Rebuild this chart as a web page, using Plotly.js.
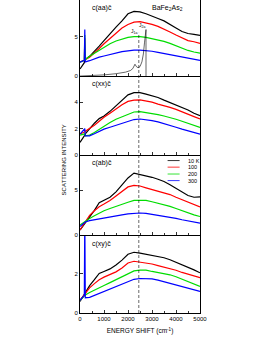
<!DOCTYPE html>
<html><head><meta charset="utf-8">
<script src="https://cdn.plot.ly/plotly-3.0.1.min.js"></script>
<style>html,body{margin:0;padding:0;background:#fff}</style>
</head><body><div id="chart" style="width:275px;height:356px"></div>
<script>
const energy = [0,180,200,220,400,600,800,1000,1250,1500,1750,2000,2250,2500,2750,3000,3250,3500,3750,4000,4250,4500,4750,5000];
const temps = ["10 K","100","200","300"];
const colors = ["#000000","#ff0000","#00dd00","#0000ff"];
const panelLabels = ["c(aa)c̄","c(xx)c̄","c(ab)c̄","c(xy)c̄"];

// c(aa)
const aa_10K  = [0.9,1.7,2.0,2.1,2.5,3.1,3.8,4.5,5.4,6.2,7.0,7.9,8.2,8.15,7.9,7.55,7.3,7.0,6.6,6.1,5.65,5.4,5.3,5.15];
const aa_100  = [1.8,2.0,4.8,2.1,2.4,2.9,3.5,4.1,4.8,5.5,6.1,6.55,6.85,6.9,6.75,6.55,6.3,6.0,5.6,5.2,4.8,4.5,4.35,4.15];
const aa_200  = [1.75,2.0,5.2,2.1,2.5,2.9,3.3,3.7,4.1,4.45,4.7,4.9,5.0,5.0,4.9,4.75,4.6,4.4,4.15,3.85,3.5,3.25,3.05,2.9];
const aa_300  = [1.75,2.0,5.9,1.8,1.95,2.2,2.4,2.55,2.75,2.95,3.1,3.2,3.3,3.3,3.25,3.15,3.0,2.85,2.7,2.55,2.4,2.25,2.1,2.0];
// c(xx)
const xx_10K  = [0.95,1.4,1.5,1.6,2.0,2.4,2.75,2.95,3.3,3.7,4.1,4.55,4.72,4.72,4.6,4.5,4.35,4.15,3.97,3.8,3.6,3.4,3.15,2.97];
const xx_100  = [1.58,1.7,1.75,1.8,2.0,2.25,2.55,2.85,3.15,3.5,3.8,4.05,4.15,4.17,4.1,4.0,3.85,3.75,3.6,3.45,3.25,3.05,2.9,2.72];
const xx_200  = [1.5,1.55,1.6,1.45,1.5,1.7,1.95,2.2,2.45,2.7,2.9,3.1,3.25,3.28,3.22,3.15,3.05,2.95,2.84,2.7,2.55,2.4,2.25,2.08];
const xx_300  = [1.58,1.9,2.0,1.45,1.45,1.6,1.8,1.95,2.1,2.25,2.4,2.55,2.68,2.72,2.68,2.6,2.5,2.38,2.25,2.1,1.95,1.82,1.7,1.58];
// c(ab)
const ab_10K  = [0.56,1.2,1.35,1.45,2.1,2.75,3.6,3.9,4.2,4.8,5.6,6.35,6.88,6.75,6.6,6.42,6.2,5.95,5.6,5.2,4.75,4.4,4.2,4.25];
const ab_100  = [0.56,1.3,1.45,1.6,2.2,2.7,3.15,3.45,3.85,4.35,4.9,5.35,5.52,5.45,5.25,5.08,4.9,4.7,4.5,4.2,3.95,3.7,3.4,3.12];
const ab_200  = [1.13,1.45,1.55,1.6,1.85,2.15,2.45,2.7,2.95,3.2,3.45,3.65,3.85,3.88,3.85,3.7,3.55,3.35,3.19,2.95,2.7,2.45,2.25,2.06];
const ab_300  = [0.94,1.35,1.4,1.45,1.6,1.7,1.8,1.95,2.06,2.15,2.25,2.35,2.43,2.45,2.4,2.3,2.2,2.1,2.0,1.85,1.7,1.55,1.45,1.32];
// c(xy)
const xy_10K  = [0.59,0.95,1.0,1.05,1.4,1.7,2.02,2.12,2.25,2.45,2.7,3.0,3.1,3.06,3.0,2.95,2.9,2.82,2.72,2.6,2.47,2.35,2.2,2.05];
const xy_100  = [0.65,0.95,1.0,1.02,1.28,1.5,1.7,1.83,1.97,2.1,2.3,2.55,2.64,2.6,2.55,2.5,2.42,2.35,2.27,2.18,2.07,1.97,1.88,1.8];
const xy_200  = [0.65,0.88,0.9,0.92,1.05,1.18,1.28,1.4,1.55,1.7,1.85,2.0,2.15,2.19,2.19,2.12,2.06,2.0,1.95,1.85,1.72,1.58,1.46,1.36];
const xy_300  = [0.65,0.9,5.0,0.78,0.8,0.9,1.02,1.12,1.25,1.38,1.5,1.62,1.72,1.76,1.76,1.74,1.68,1.6,1.52,1.45,1.36,1.27,1.18,1.1];

// two-magnon calculation (thin line, c(aa) panel)
const calcEnergy = [0,500,1000,1500,1900,2100,2200,2290,2350,2420,2500,2580,2640,2690,2730,2750,2750];
const calcValue  = [0,0.05,0.15,0.3,0.5,0.7,0.95,1.5,1.2,1.05,1.2,1.8,2.8,4.3,5.5,5.9,0];
const markerEnergy = [2450];

const panels = [
  {data:[aa_10K,aa_100,aa_200,aa_300], xa:"x4", ya:"y4"},
  {data:[xx_10K,xx_100,xx_200,xx_300], xa:"x3", ya:"y3"},
  {data:[ab_10K,ab_100,ab_200,ab_300], xa:"x2", ya:"y2"},
  {data:[xy_10K,xy_100,xy_200,xy_300], xa:"x",  ya:"y"}
];

const traces = [];
panels.forEach(p => {
  p.data.forEach((d,i) => {
    traces.push({x:energy, y:d, xaxis:p.xa, yaxis:p.ya, type:"scatter", mode:"lines",
      line:{color:colors[i], width:1.2}, showlegend:false, hoverinfo:"skip"});
  });
});
traces.push({x:calcEnergy, y:calcValue, xaxis:"x4", yaxis:"y4", type:"scatter", mode:"lines",
  line:{color:"#000", width:0.6}, showlegend:false});

const font = {family:"Liberation Sans, Arial, sans-serif", color:"#000"};
function xax(anchor, labels){
  return {range:[0,5000], anchor:anchor, showline:true, mirror:true, linecolor:"#000", linewidth:1,
    ticks:"inside", ticklen:3, tickwidth:0.8, tickcolor:"#000", dtick:1000, tick0:0,
    minor:{dtick:500, ticks:"inside", ticklen:2, tickcolor:"#000"},
    showgrid:false, zeroline:false, showticklabels:labels,
    tickfont:{size:6, family:font.family, color:"#000"}};
}
function yax(anchor, dom, rng, dt){
  return {domain:dom, range:rng, anchor:anchor, showline:true, mirror:true, linecolor:"#000", linewidth:1,
    ticks:"inside", ticklen:3, tickwidth:0.8, tickcolor:"#000", dtick:dt, tick0:0,
    showgrid:false, zeroline:false, tickfont:{size:6, family:font.family, color:"#000"}};
}

const layout = {
  width:275, height:356, margin:{l:80, r:75, t:0, b:43},
  paper_bgcolor:"#fff", plot_bgcolor:"#fff", font:font, showlegend:false,
  xaxis: Object.assign(xax("y", true), {title:{text:"ENERGY SHIFT (cm<sup>-1</sup>)", font:{size:6.5}, standoff:7}}),
  xaxis2: xax("y2", false), xaxis3: xax("y3", false), xaxis4: xax("y4", false),
  yaxis: yax("x", [0,0.246], [0,3.93], 2),
  yaxis2: yax("x2", [0.249,0.502], [0,8.8], 5),
  yaxis3: yax("x3", [0.505,0.754], [0,5.9], 2),
  yaxis4: yax("x4", [0.757,1], [0,9.65], 5),
  shapes: markerEnergy.map(e => ({type:"line", xref:"x", yref:"paper", x0:e, x1:e, y0:0, y1:0.895,
    line:{color:"#000", width:0.6, dash:"3px,2px"}})),
  annotations: []
};
const labelY = [0.995, 0.75, 0.497, 0.241];
panelLabels.forEach((t,i) => layout.annotations.push({text:t, xref:"paper", yref:"paper", x:0.08, y:labelY[i],
  xanchor:"left", yanchor:"top", showarrow:false, font:{size:7}}));
layout.annotations.push({text:"BaFe<sub>2</sub>As<sub>2</sub>", xref:"paper", yref:"paper", x:0.73, y:0.995,
  xanchor:"center", yanchor:"top", showarrow:false, font:{size:7}});
layout.annotations.push({text:"SCATTERING INTENSITY", xref:"paper", yref:"paper", x:-0.135, y:0.49,
  textangle:-90, xanchor:"center", yanchor:"middle", showarrow:false, font:{size:6}});
layout.annotations.push({text:"J<sub>1a</sub>", xref:"x4", yref:"y4", x:2250, y:5.6, showarrow:false, font:{size:5}});
layout.annotations.push({text:"J<sub>2a</sub>", xref:"x4", yref:"y4", x:2600, y:6.4, showarrow:false, font:{size:5}});
// legend in c(ab) panel
const legY = [0.487, 0.466, 0.444, 0.423];
temps.forEach((t,i) => {
  layout.shapes.push({type:"line", xref:"paper", yref:"paper", x0:0.73, x1:0.83, y0:legY[i], y1:legY[i],
    line:{color:colors[i], width:0.8}});
  layout.annotations.push({text:t, xref:"paper", yref:"paper", x:0.88, y:legY[i], xanchor:"left", yanchor:"middle",
    showarrow:false, font:{size:5.5}});
});

Plotly.newPlot("chart", traces, layout, {staticPlot:true, displayModeBar:false});
</script></body></html>
